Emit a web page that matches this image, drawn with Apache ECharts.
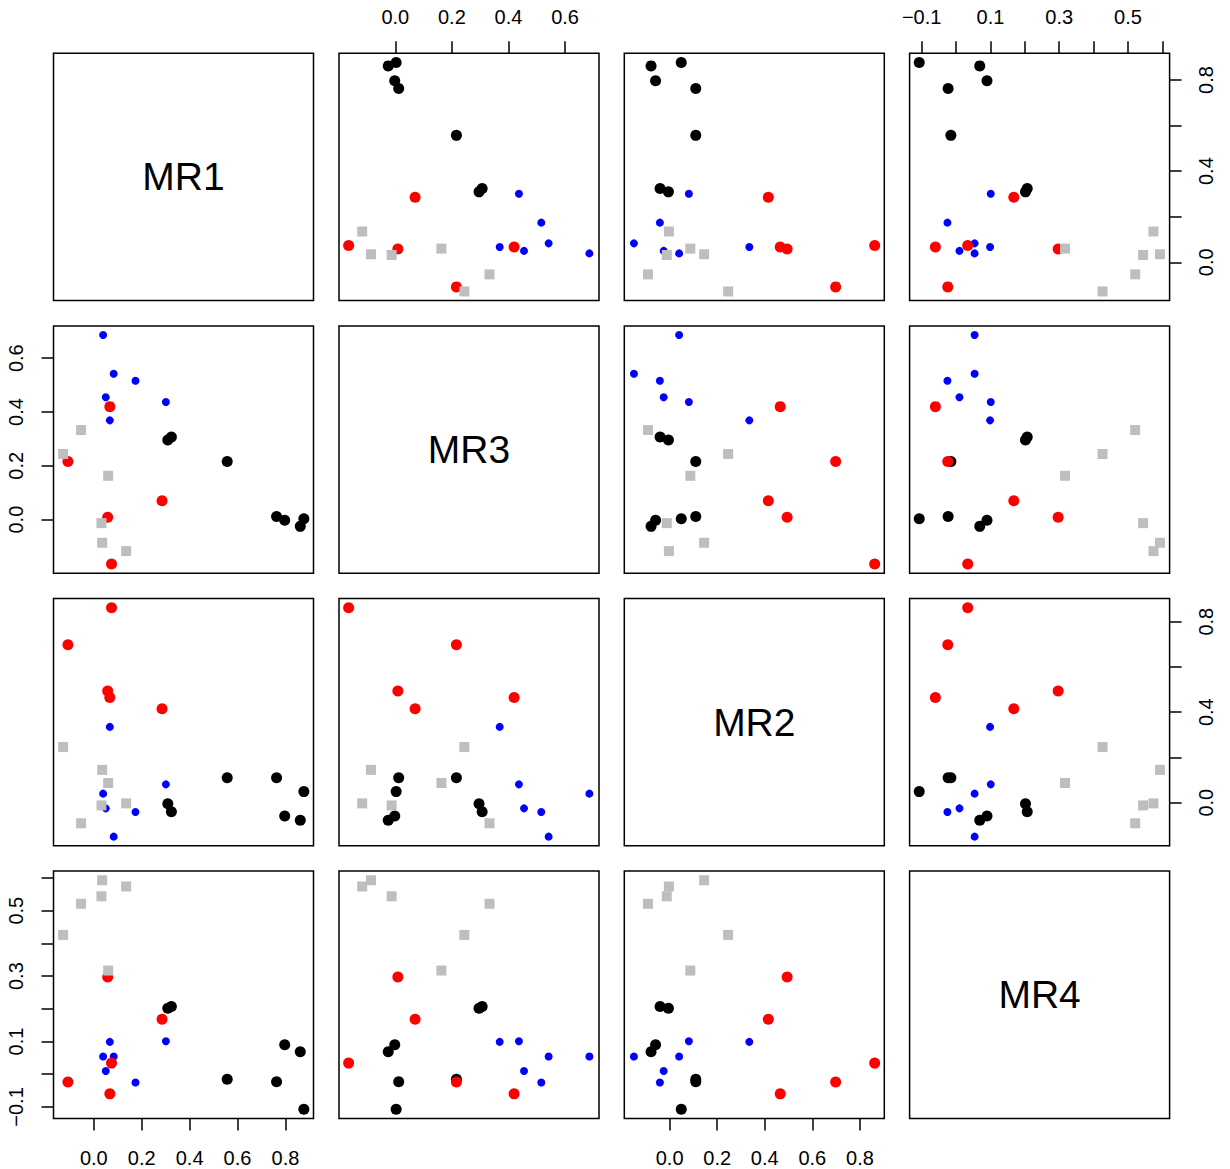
<!DOCTYPE html>
<html>
<head>
<meta charset="utf-8">
<script src="https://cdn.jsdelivr.net/npm/echarts@6/dist/echarts.min.js"></script>
<style>
html,body{margin:0;padding:0;background:#fff;}
#chart{width:1230px;height:1169px;}
</style>
</head>
<body>
<div id="chart"></div>
<script>
// Variables in pairs-plot order
const varNames = ['MR1', 'MR3', 'MR2', 'MR4'];

// Group: black (large filled circles)
const blackMR1 = [0.877, 0.862, 0.797, 0.763, 0.557, 0.309, 0.324];
const blackMR3 = [0.003, -0.025, -0.002, 0.012, 0.216, 0.296, 0.307];
const blackMR2 = [0.049, -0.078, -0.059, 0.110, 0.110, -0.005, -0.040];
const blackMR4 = [-0.107, 0.069, 0.090, -0.023, -0.015, 0.202, 0.207];

// Group: blue (small filled circles)
const blueMR1 = [0.039, 0.083, 0.174, 0.050, 0.301, 0.067];
const blueMR3 = [0.686, 0.542, 0.516, 0.455, 0.437, 0.369];
const blueMR2 = [0.040, -0.150, -0.041, -0.025, 0.081, 0.335];
const blueMR4 = [0.054, 0.054, -0.025, 0.010, 0.101, 0.099];

// Group: red (large filled circles)
const redMR1 = [0.074, -0.108, 0.058, 0.067, 0.285];
const redMR3 = [-0.165, 0.216, 0.009, 0.420, 0.070];
const redMR2 = [0.862, 0.698, 0.494, 0.465, 0.415];
const redMR4 = [0.034, -0.024, 0.297, -0.060, 0.168];

// Group: gray (filled squares)
const grayMR1 = [-0.053, -0.128, 0.060, 0.032, 0.035, 0.135];
const grayMR3 = [0.333, 0.244, 0.163, -0.013, -0.086, -0.117];
const grayMR2 = [-0.091, 0.246, 0.087, -0.012, 0.145, -0.003];
const grayMR4 = [0.521, 0.426, 0.317, 0.544, 0.593, 0.574];

// Tick positions and labelled ticks
const tickMR1 = [0, 0.2, 0.4, 0.6, 0.8];
const tickMR3 = [0, 0.2, 0.4, 0.6];
const tickMR2 = [0, 0.2, 0.4, 0.6, 0.8];
const tickMR4 = [-0.1, 0, 0.1, 0.2, 0.3, 0.4, 0.5, 0.6];
const sparseLabelMR1 = [0, 0.4, 0.8];
const sparseLabelMR2 = [0, 0.4, 0.8];
const sparseLabelMR4 = [-0.1, 0.1, 0.3, 0.5];

const groups = [
  {vals: {MR1: blackMR1, MR3: blackMR3, MR2: blackMR2, MR4: blackMR4}, color: '#000000', symbol: 'circle', size: 11},
  {vals: {MR1: blueMR1, MR3: blueMR3, MR2: blueMR2, MR4: blueMR4}, color: '#0000FF', symbol: 'circle', size: 8},
  {vals: {MR1: redMR1, MR3: redMR3, MR2: redMR2, MR4: redMR4}, color: '#FF0000', symbol: 'circle', size: 11},
  {vals: {MR1: grayMR1, MR3: grayMR3, MR2: grayMR2, MR4: grayMR4}, color: '#BEBEBE', symbol: 'rect', size: 10}
];
const ticks = {MR1: tickMR1, MR3: tickMR3, MR2: tickMR2, MR4: tickMR4};

// Axis ranges: data range extended by 4% on each side (as R does)
const ranges = {};
varNames.forEach(v => {
  const all = [].concat(...groups.map(g => g.vals[v]));
  const lo = Math.min(...all), hi = Math.max(...all);
  const ext = (hi - lo) * 0.04;
  ranges[v] = [lo - ext, hi + ext];
});

const FONT = '"Liberation Sans", Arial, Helvetica, sans-serif';
const lefts = [53.5, 339, 624.3, 909.6];
const tops = [53.3, 325.9, 598.5, 871.1];
const PW = 260, PH = 247.3;

const fmt = v => {
  const r = Math.round(v * 10) / 10;
  return (r < 0 ? '\u2212' : '') + Math.abs(r).toFixed(1);
};

const grid = [], xAxis = [], yAxis = [], series = [], graphic = [];

for (let i = 0; i < 4; i++) {
  for (let j = 0; j < 4; j++) {
    const k = i * 4 + j;
    const xv = varNames[j], yv = varNames[i];
    grid.push({
      left: lefts[j], top: tops[i], width: PW, height: PH,
      show: true, borderColor: '#000', borderWidth: 1.5, backgroundColor: 'transparent',
      containLabel: false
    });
    // x axis
    let xShow = false, xPos = 'bottom', xLabels = ticks[xv], xMargin = 26;
    if (i === 3 && (j === 0 || j === 2)) { xShow = true; xPos = 'bottom'; xMargin = 30; }
    if (i === 0 && (j === 1 || j === 3)) { xShow = true; xPos = 'top'; if (xv === 'MR4') xLabels = sparseLabelMR4; }
    xAxis.push({
      type: 'value', gridIndex: k, min: ranges[xv][0], max: ranges[xv][1], position: xPos,
      axisLine: {show: false, onZero: false}, splitLine: {show: false},
      axisTick: {show: xShow, inside: false, length: 12, customValues: ticks[xv], lineStyle: {color: '#000', width: 1.5}},
      axisLabel: {show: xShow, customValues: xLabels, formatter: fmt, margin: xMargin, fontSize: 20, color: '#000', fontFamily: FONT}
    });
    // y axis
    let yShow = false, yPos = 'left', yLabels = ticks[yv], yMargin = 28;
    if (j === 0 && (i === 1 || i === 3)) { yShow = true; yPos = 'left'; if (yv === 'MR4') yLabels = sparseLabelMR4; }
    if (j === 3 && (i === 0 || i === 2)) {
      yShow = true; yPos = 'right'; yMargin = 26;
      yLabels = (yv === 'MR1') ? sparseLabelMR1 : sparseLabelMR2;
    }
    yAxis.push({
      type: 'value', gridIndex: k, min: ranges[yv][0], max: ranges[yv][1], position: yPos,
      axisLine: {show: false, onZero: false}, splitLine: {show: false},
      axisTick: {show: yShow, inside: false, length: 12, customValues: ticks[yv], lineStyle: {color: '#000', width: 1.5}},
      axisLabel: {show: yShow, customValues: yLabels, formatter: fmt, rotate: 90, margin: yMargin, fontSize: 20, color: '#000', fontFamily: FONT}
    });
    if (i === j) {
      graphic.push({
        type: 'text', x: lefts[j] + PW / 2, y: tops[i] + PH / 2, silent: true,
        style: {text: varNames[i], font: '39px ' + FONT, fill: '#000', textAlign: 'center', textVerticalAlign: 'middle'}
      });
    } else {
      groups.forEach(g => {
        series.push({
          type: 'scatter', xAxisIndex: k, yAxisIndex: k, silent: true,
          symbol: g.symbol, symbolSize: g.size,
          itemStyle: {color: g.color, opacity: 1},
          data: g.vals[xv].map((x, n) => [x, g.vals[yv][n]])
        });
      });
    }
  }
}

const chart = echarts.init(document.getElementById('chart'), null, {renderer: 'svg', width: 1230, height: 1169});
chart.setOption({
  animation: false,
  backgroundColor: '#fff',
  grid, xAxis, yAxis, series, graphic
});
</script>
</body>
</html>
